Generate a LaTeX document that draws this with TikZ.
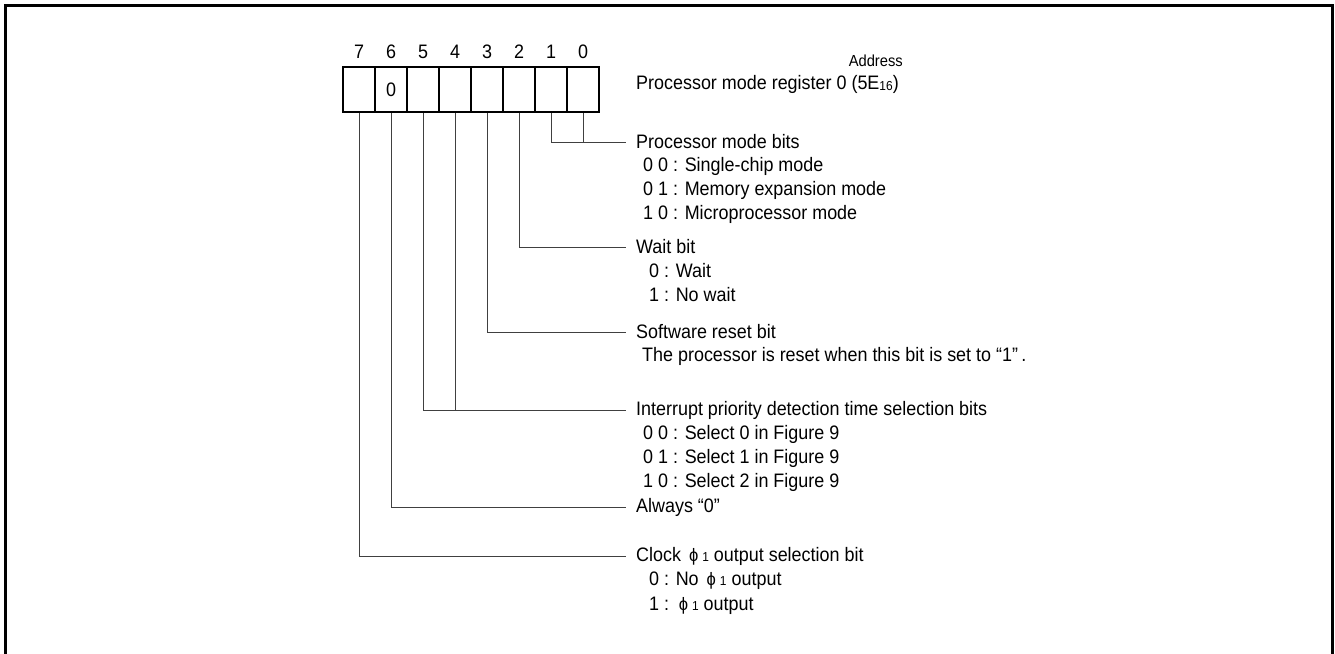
\documentclass[tikz,border=0pt]{standalone}
\usepackage{fontspec}
\setmainfont[FakeStretch=0.92]{Liberation Sans}
\usetikzlibrary{positioning}

\newcommand{\phiout}{{\kern3pt\fontsize{18}{18}\selectfont ϕ\kern4pt\fontsize{13}{13}\selectfont 1}}

\begin{document}
\begin{tikzpicture}[
        x=1pt, y=-1pt,
        every node/.style={font=\fontsize{19.5}{22}\selectfont, inner sep=0pt},
        cell/.style={draw, line width=2.5pt, minimum width=32pt, minimum height=45pt},
        lead/.style={line width=1pt, black!75},
        desc/.style={anchor=west, inner xsep=10pt},
        item/.style={anchor=west}
    ]
        \useasboundingbox (0,0) rectangle (1335,653);
        \draw[line width=3pt] (5,670) -- (5,5) -- (1332,5) -- (1332,670);

        % register cells and bit numbers
        \foreach \b [count=\i from 0] in {7,...,0} {
            \node[cell] (b\b) at ({359+32*\i}, 89.5) {};
            \node (n\b) at ({359+32*\i}, 52) {\b};
        }
        \node (zero) at (b6) {0};

        \node[font=\fontsize{16}{18}\selectfont, anchor=east] (addr) at (903, 61) {Address};
        \node[anchor=west] (reg) at (636, 84) {Processor mode register 0 (5E\raisebox{-1.5pt}{\fontsize{13}{13}\selectfont 16})};

        % descriptions
        \node[desc] (pmb) at (626, 142) {Processor mode bits};
        \node[item] (pm00) at (643, 166) {0 0 : Single-chip mode};
        \node[item] (pm01) at (643, 190) {0 1 : Memory expansion mode};
        \node[item] (pm10) at (643, 214) {1 0 : Microprocessor mode};

        \node[desc] (wait) at (626, 247) {Wait bit};
        \node[item] (w0) at (649, 271) {0 : Wait};
        \node[item] (w1) at (649, 295) {1 : No wait};

        \node[desc] (swr) at (626, 332) {Software reset bit};
        \node[item] (swrnote) at (642, 356) {The processor is reset when this bit is set to “1”\,.};

        \node[desc] (ipr) at (626, 410) {Interrupt priority detection time selection bits};
        \node[item] (ip00) at (643, 434) {0 0 : Select 0 in Figure 9};
        \node[item] (ip01) at (643, 458) {0 1 : Select 1 in Figure 9};
        \node[item] (ip10) at (643, 482) {1 0 : Select 2 in Figure 9};

        \node[desc] (always) at (626, 507) {Always “0”};

        \node[desc] (clk) at (626, 556) {Clock \phiout\ output selection bit};
        \node[item] (clk0) at (649, 581) {0 : No \phiout\ output};
        \node[item] (clk1) at (649, 606) {1 : \phiout\ output};

        % leads
        \draw[lead] (b1.south) |- (pmb.west);
        \draw[lead] (b0.south) -- (b0.south |- pmb.west);
        \draw[lead] (b2.south) |- (wait.west);
        \draw[lead] (b3.south) |- (swr.west);
        \draw[lead] (b5.south) |- (ipr.west);
        \draw[lead] (b4.south) -- (b4.south |- ipr.west);
        \draw[lead] (b6.south) |- (always.west);
        \draw[lead] (b7.south) |- (clk.west);
\end{tikzpicture}
\end{document}
